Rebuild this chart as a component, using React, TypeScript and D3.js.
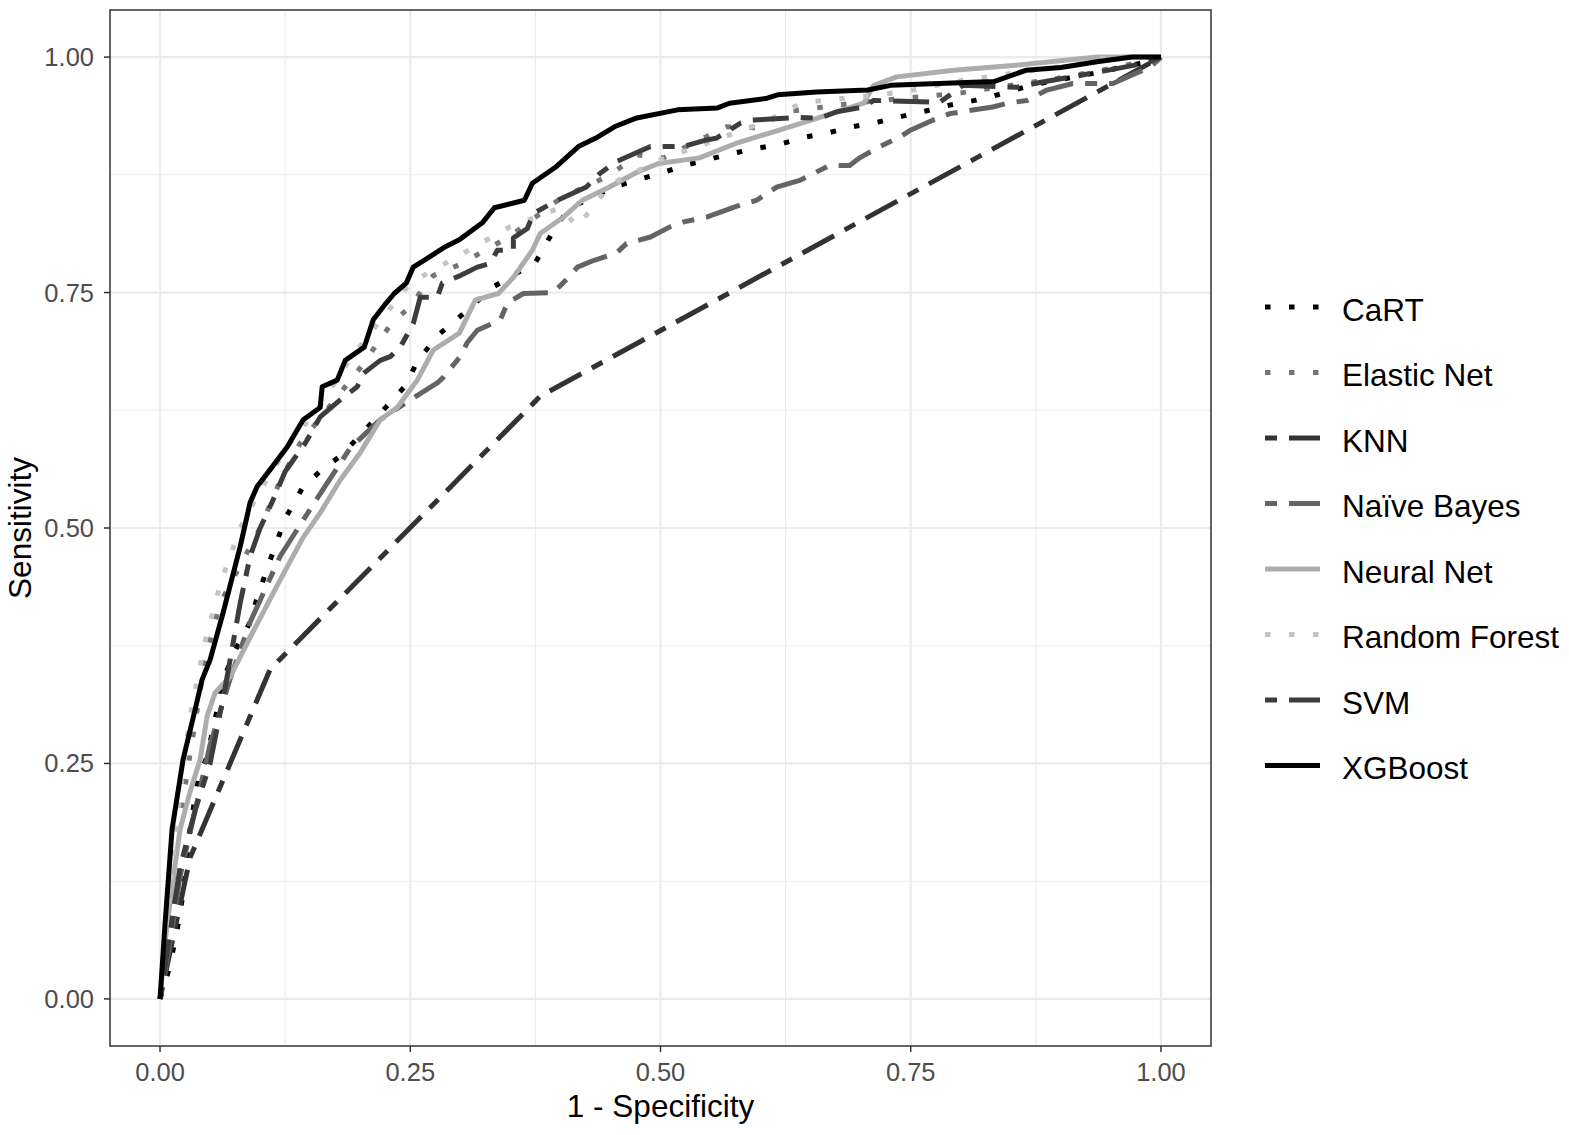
import React from "react";
import * as d3 from "d3";

type Pt = [number, number];

// ---- data (1 - specificity, sensitivity) ----
const cartRoc: Pt[] = [
  [0, 0], [0.008, 0.028], [0.013, 0.052], [0.018, 0.079], [0.022, 0.105], [0.025, 0.13],
  [0.03, 0.18], [0.038, 0.235], [0.047, 0.257], [0.057, 0.307], [0.06, 0.331], [0.075, 0.37],
  [0.09, 0.4], [0.097, 0.426], [0.11, 0.466], [0.125, 0.51], [0.143, 0.544], [0.162, 0.562],
  [0.181, 0.577], [0.21, 0.61], [0.246, 0.652], [0.256, 0.675], [0.263, 0.685], [0.278, 0.705],
  [0.296, 0.721], [0.333, 0.756], [0.375, 0.782], [0.385, 0.8], [0.395, 0.82], [0.41, 0.84],
  [0.453, 0.862], [0.501, 0.877], [0.524, 0.885], [0.573, 0.898], [0.596, 0.903], [0.621, 0.908],
  [0.644, 0.915], [0.669, 0.92], [0.692, 0.926], [0.717, 0.931], [0.741, 0.937], [0.766, 0.943],
  [0.789, 0.949], [0.814, 0.954], [0.837, 0.96], [0.87, 0.97], [0.909, 0.978], [0.934, 0.983],
  [0.986, 0.995], [1, 1],
];

const elasticNetRoc: Pt[] = [
  [0, 0], [0.005, 0.06], [0.01, 0.1], [0.02, 0.19], [0.03, 0.26], [0.045, 0.36], [0.06, 0.42],
  [0.08, 0.46], [0.1, 0.5], [0.12, 0.55], [0.14, 0.59], [0.17, 0.63], [0.2, 0.67], [0.233, 0.72],
  [0.246, 0.731], [0.273, 0.768], [0.3, 0.78], [0.35, 0.81], [0.4, 0.85], [0.45, 0.875],
  [0.477, 0.896], [0.503, 0.893], [0.566, 0.926], [0.596, 0.925], [0.626, 0.942], [0.7, 0.952],
  [0.8, 0.962], [0.9, 0.978], [0.96, 0.99], [1, 1],
];

const knnRoc: Pt[] = [
  [0, 0], [0.03, 0.15], [0.11, 0.35], [0.38, 0.64], [1, 1],
];

const naiveBayesRoc: Pt[] = [
  [0, 0], [0.01, 0.06], [0.02, 0.13], [0.035, 0.2], [0.05, 0.27], [0.07, 0.34], [0.09, 0.4],
  [0.12, 0.47], [0.15, 0.52], [0.19, 0.585], [0.22, 0.615], [0.253, 0.638], [0.277, 0.654],
  [0.283, 0.66], [0.3, 0.682], [0.307, 0.697], [0.317, 0.71], [0.34, 0.721], [0.347, 0.739],
  [0.363, 0.749], [0.393, 0.75], [0.407, 0.765], [0.417, 0.777], [0.433, 0.784], [0.456, 0.792],
  [0.466, 0.802], [0.49, 0.809], [0.51, 0.82], [0.523, 0.825], [0.546, 0.83], [0.58, 0.843],
  [0.596, 0.848], [0.616, 0.862], [0.639, 0.869], [0.669, 0.885], [0.689, 0.885], [0.699, 0.893],
  [0.719, 0.905], [0.739, 0.915], [0.749, 0.922], [0.772, 0.933], [0.789, 0.94], [0.832, 0.947],
  [0.846, 0.951], [0.866, 0.954], [0.886, 0.965], [0.912, 0.972], [0.952, 0.972], [0.99, 0.99],
  [1, 1],
];

const neuralNetRoc: Pt[] = [
  [0, 0], [0.005, 0.06], [0.012, 0.12], [0.02, 0.18], [0.03, 0.22], [0.04, 0.254], [0.047, 0.3],
  [0.055, 0.325], [0.07, 0.342], [0.09, 0.384], [0.12, 0.445], [0.143, 0.49], [0.16, 0.516],
  [0.18, 0.551], [0.2, 0.58], [0.22, 0.615], [0.237, 0.628], [0.257, 0.657], [0.273, 0.689],
  [0.299, 0.707], [0.315, 0.742], [0.338, 0.749], [0.353, 0.766], [0.372, 0.795], [0.38, 0.813],
  [0.403, 0.83], [0.422, 0.848], [0.449, 0.862], [0.475, 0.877], [0.498, 0.887], [0.539, 0.893],
  [0.577, 0.909], [0.617, 0.922], [0.656, 0.935], [0.703, 0.951], [0.713, 0.97], [0.736, 0.979],
  [0.793, 0.986], [0.852, 0.991], [0.936, 1], [1, 1],
];

const randomForestRoc: Pt[] = [
  [0, 0], [0.01, 0.12], [0.02, 0.22], [0.03, 0.3], [0.045, 0.38], [0.06, 0.44], [0.08, 0.5],
  [0.1, 0.54], [0.13, 0.59], [0.16, 0.63], [0.19, 0.68], [0.22, 0.72], [0.25, 0.76], [0.3, 0.79],
  [0.35, 0.82], [0.4, 0.84], [0.417, 0.82], [0.428, 0.835], [0.45, 0.865], [0.5, 0.891],
  [0.55, 0.91], [0.609, 0.933], [0.622, 0.942], [0.644, 0.952], [0.7, 0.958], [0.742, 0.963],
  [0.8, 0.975], [0.9, 0.99], [0.95, 1], [1, 1],
];

const svmRoc: Pt[] = [
  [0, 0], [0.01, 0.07], [0.02, 0.14], [0.035, 0.2], [0.05, 0.25], [0.065, 0.33], [0.08, 0.42],
  [0.09, 0.47], [0.1, 0.5], [0.113, 0.53], [0.125, 0.56], [0.145, 0.59], [0.16, 0.618],
  [0.18, 0.636], [0.197, 0.65], [0.203, 0.664], [0.22, 0.678], [0.23, 0.682], [0.24, 0.692],
  [0.253, 0.717], [0.26, 0.745], [0.277, 0.745], [0.282, 0.76], [0.3, 0.768], [0.317, 0.777],
  [0.33, 0.781], [0.337, 0.795], [0.353, 0.795], [0.353, 0.808], [0.367, 0.818], [0.373, 0.834],
  [0.397, 0.848], [0.426, 0.862], [0.44, 0.877], [0.456, 0.889], [0.49, 0.905], [0.523, 0.905],
  [0.546, 0.912], [0.556, 0.914], [0.58, 0.93], [0.59, 0.933], [0.639, 0.936], [0.659, 0.935],
  [0.676, 0.942], [0.703, 0.947], [0.713, 0.954], [0.779, 0.952], [0.792, 0.962], [0.802, 0.97],
  [0.856, 0.968], [0.879, 0.973], [0.932, 0.983], [0.986, 0.994], [1, 1],
];

const xgboostRoc: Pt[] = [
  [0, 0], [0.005, 0.08], [0.012, 0.18], [0.023, 0.254], [0.035, 0.307], [0.042, 0.339],
  [0.05, 0.36], [0.063, 0.41], [0.08, 0.48], [0.09, 0.527], [0.097, 0.544], [0.11, 0.562],
  [0.127, 0.586], [0.143, 0.615], [0.16, 0.628], [0.162, 0.65], [0.177, 0.657], [0.185, 0.678],
  [0.204, 0.692], [0.213, 0.721], [0.223, 0.735], [0.234, 0.749], [0.246, 0.76], [0.253, 0.777],
  [0.265, 0.785], [0.284, 0.798], [0.299, 0.806], [0.322, 0.824], [0.334, 0.84], [0.364, 0.848],
  [0.372, 0.866], [0.395, 0.883], [0.418, 0.905], [0.437, 0.915], [0.454, 0.926], [0.475, 0.935],
  [0.517, 0.944], [0.557, 0.946], [0.569, 0.951], [0.605, 0.956], [0.617, 0.96], [0.656, 0.963],
  [0.707, 0.965], [0.73, 0.97], [0.833, 0.974], [0.865, 0.986], [0.9, 0.989], [0.936, 0.995],
  [0.971, 1], [1, 1],
];

const modelNames = [
  "CaRT", "Elastic Net", "KNN", "Naïve Bayes", "Neural Net", "Random Forest", "SVM", "XGBoost",
];
const modelCurves: Pt[][] = [
  cartRoc, elasticNetRoc, knnRoc, naiveBayesRoc, neuralNetRoc, randomForestRoc, svmRoc, xgboostRoc,
];

const tickValues = [0, 0.25, 0.5, 0.75, 1];
const tickLabels = ["0.00", "0.25", "0.50", "0.75", "1.00"];
const minorTickValues = [0.125, 0.375, 0.625, 0.875];

// ---- styles ----
const DOTTED = "5.5 18.5";
const TWODASH = "12 12 36 12";
const modelStyles = [
  { color: "#000000", dash: DOTTED },
  { color: "#767676", dash: DOTTED },
  { color: "#333333", dash: TWODASH },
  { color: "#646464", dash: TWODASH },
  { color: "#adadad", dash: "none" },
  { color: "#c4c4c4", dash: DOTTED },
  { color: "#3d3d3d", dash: TWODASH },
  { color: "#000000", dash: "none" },
];

const W = 1569;
const H = 1135;
const PANEL = { left: 110, right: 1211, top: 10, bottom: 1046 };
const FONT = "'Liberation Sans', Arial, Helvetica, sans-serif";
const LW = 5;

export default function App() {
  const x = d3.scaleLinear().domain([-0.05, 1.05]).range([PANEL.left, PANEL.right]);
  const y = d3.scaleLinear().domain([-0.05, 1.05]).range([PANEL.bottom, PANEL.top]);
  const line = d3
    .line<Pt>()
    .x((d) => x(d[0]))
    .y((d) => y(d[1]));

  const legendX0 = 1265;
  const legendX1 = 1320;
  const legendY0 = 307;
  const legendStep = 65.5;

  return (
    <div style={{ position: "absolute", left: 0, top: 0 }}>
      <svg width={W} height={H} style={{ display: "block", background: "#fff" }}>
        <rect x={0} y={0} width={W} height={H} fill="#fff" />
        <defs>
          <clipPath id="panelClip">
            <rect x={PANEL.left} y={PANEL.top} width={PANEL.right - PANEL.left} height={PANEL.bottom - PANEL.top} />
          </clipPath>
        </defs>
        {/* minor grid */}
        {minorTickValues.map((v) => (
          <g key={"mn" + v}>
            <line x1={x(v)} x2={x(v)} y1={PANEL.top} y2={PANEL.bottom} stroke="#ebebeb" strokeWidth={1.1} />
            <line x1={PANEL.left} x2={PANEL.right} y1={y(v)} y2={y(v)} stroke="#ebebeb" strokeWidth={1.1} />
          </g>
        ))}
        {/* major grid */}
        {tickValues.map((v) => (
          <g key={"mj" + v}>
            <line x1={x(v)} x2={x(v)} y1={PANEL.top} y2={PANEL.bottom} stroke="#ebebeb" strokeWidth={2.2} />
            <line x1={PANEL.left} x2={PANEL.right} y1={y(v)} y2={y(v)} stroke="#ebebeb" strokeWidth={2.2} />
          </g>
        ))}
        {/* curves */}
        <g clipPath="url(#panelClip)">
          {modelCurves.map((c, i) => (
            <path
              key={modelNames[i]}
              d={line(c) || ""}
              fill="none"
              stroke={modelStyles[i].color}
              strokeWidth={LW}
              strokeDasharray={modelStyles[i].dash}
              strokeLinecap="butt"
              strokeLinejoin="round"
            />
          ))}
        </g>
        {/* panel border */}
        <rect
          x={PANEL.left}
          y={PANEL.top}
          width={PANEL.right - PANEL.left}
          height={PANEL.bottom - PANEL.top}
          fill="none"
          stroke="#333333"
          strokeWidth={1.5}
        />
        {/* axes ticks and labels */}
        {tickValues.map((v, i) => (
          <g key={"t" + v}>
            <line x1={x(v)} x2={x(v)} y1={PANEL.bottom} y2={PANEL.bottom + 6} stroke="#333333" strokeWidth={1.5} />
            <text
              x={x(v)}
              y={1081}
              textAnchor="middle"
              fontFamily={FONT}
              fontSize={25.5}
              fill="#4d4d4d"
            >
              {tickLabels[i]}
            </text>
            <line x1={PANEL.left - 6} x2={PANEL.left} y1={y(v)} y2={y(v)} stroke="#333333" strokeWidth={1.5} />
            <text
              x={94}
              y={y(v) + 9}
              textAnchor="end"
              fontFamily={FONT}
              fontSize={25.5}
              fill="#4d4d4d"
            >
              {tickLabels[i]}
            </text>
          </g>
        ))}
        {/* axis titles */}
        <text
          x={(PANEL.left + PANEL.right) / 2}
          y={1116.5}
          textAnchor="middle"
          fontFamily={FONT}
          fontSize={31.5}
          fill="#000"
        >
          1 - Specificity
        </text>
        <text
          transform={`translate(31, ${(PANEL.top + PANEL.bottom) / 2}) rotate(-90)`}
          textAnchor="middle"
          fontFamily={FONT}
          fontSize={31.5}
          fill="#000"
        >
          Sensitivity
        </text>
        {/* legend */}
        {modelNames.map((name, i) => {
          const ly = legendY0 + i * legendStep;
          return (
            <g key={"lg" + name}>
              <line
                x1={legendX0}
                x2={legendX1}
                y1={ly}
                y2={ly}
                stroke={modelStyles[i].color}
                strokeWidth={LW}
                strokeDasharray={modelStyles[i].dash}
                strokeLinecap="butt"
              />
              <text x={1342} y={ly + 13.5} fontFamily={FONT} fontSize={31.5} fill="#000">
                {name}
              </text>
            </g>
          );
        })}
      </svg>
    </div>
  );
}
